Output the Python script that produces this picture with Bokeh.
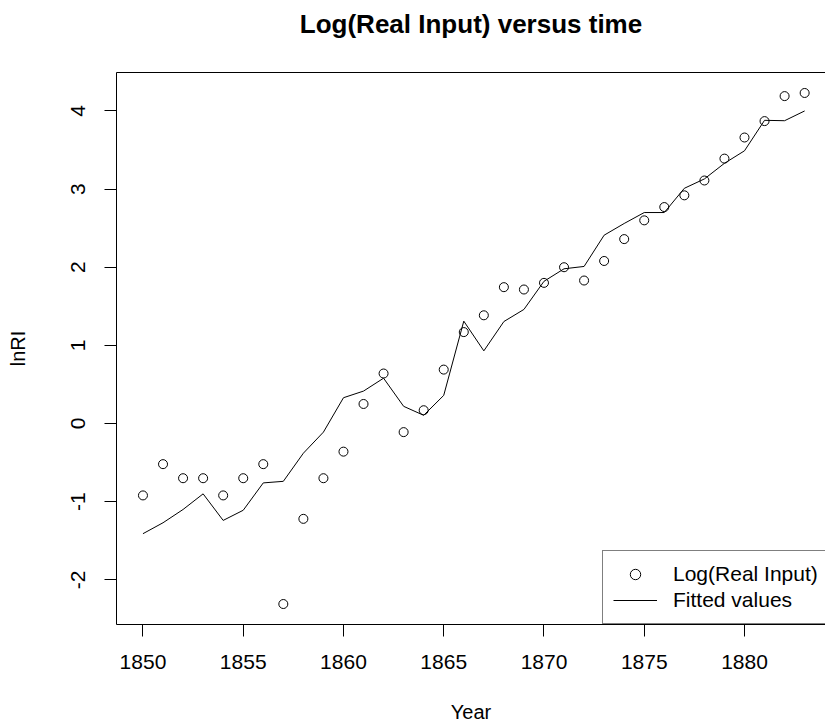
from bokeh.plotting import figure
from bokeh.models import (ColumnDataSource, FixedTicker, LinearAxis, Legend, LegendItem, Range1d)
from bokeh.embed import file_html
from bokeh.resources import INLINE

# ---- data ----
years = list(range(1850, 1884))
ln_real_input = [-0.92, -0.52, -0.70, -0.70, -0.92, -0.70, -0.52, -2.31, -1.22, -0.70,
                 -0.36, 0.25, 0.64, -0.11, 0.17, 0.69, 1.17, 1.385, 1.745, 1.715,
                 1.80, 2.00, 1.83, 2.08, 2.36, 2.60, 2.77, 2.92, 3.11, 3.39,
                 3.66, 3.87, 4.19, 4.23]
fitted_values = [-1.41, -1.27, -1.10, -0.90, -1.24, -1.11, -0.76, -0.74, -0.38, -0.11,
                 0.33, 0.415, 0.58, 0.22, 0.105, 0.36, 1.31, 0.93, 1.305, 1.46,
                 1.82, 1.98, 2.01, 2.41, 2.56, 2.70, 2.70, 3.01, 3.13, 3.33,
                 3.49, 3.88, 3.875, 4.00]
x_ticks = [1850, 1855, 1860, 1865, 1870, 1875, 1880]
y_ticks = [-2, -1, 0, 1, 2, 3, 4]
y_tick_labels = ["-2", "-1", "0", "1", "2", "3", "4"]

title_text = "Log(Real Input) versus time"
x_label = "Year"
y_label = "lnRI"
legend_labels = ["Log(Real Input)", "Fitted values"]

FONT = "Liberation Sans"

src = ColumnDataSource(dict(year=years, lnri=ln_real_input, fit=fitted_values))

p = figure(width=825, height=725, output_backend="svg", toolbar_location=None,
           x_range=Range1d(1848.68, 1884.04), y_range=Range1d(-2.572, 4.492),
           min_border_left=116, min_border_right=0, min_border_top=72,
           min_border_bottom=97, x_axis_location=None, y_axis_location=None)
p.outline_line_color = None
p.grid.visible = False
p.background_fill_color = "white"
p.border_fill_color = "white"

# axes
xax = LinearAxis(ticker=FixedTicker(ticks=x_ticks), axis_label=x_label)
yax = LinearAxis(ticker=FixedTicker(ticks=y_ticks), axis_label=y_label)
top = LinearAxis(ticker=FixedTicker(ticks=[]), axis_label=" ")
for ax in (xax, yax, top):
    ax.axis_line_color = "black"
    ax.axis_line_width = 1
    ax.major_tick_line_color = "black"
    ax.major_tick_out = 12
    ax.major_tick_in = 0
    ax.minor_tick_line_color = None
    ax.major_label_text_font = FONT
    ax.major_label_text_font_size = "21px"
    ax.major_label_text_color = "black"
    ax.axis_label_text_font = FONT
    ax.axis_label_text_font_size = "20px"
    ax.axis_label_text_font_style = "normal"
    ax.axis_label_text_color = "black"
top.major_label_text_font_size = "0px"
top.major_tick_line_color = None
top.major_tick_out = 0
top.axis_label_standoff = 9
xax.major_label_standoff = 18
xax.axis_label_standoff = 29
yax.major_label_orientation = "vertical"
yax.major_label_overrides = {t: s for t, s in zip(y_ticks, y_tick_labels)}
yax.major_label_standoff = 19
yax.axis_label_standoff = 40
p.add_layout(xax, "below")
p.add_layout(yax, "left")
p.add_layout(top, "above")

# title
p.title.text = title_text
p.title.align = "center"
p.title.text_font = FONT
p.title.text_font_size = "26px"
p.title.text_font_style = "bold"
p.title.text_color = "black"
p.title.standoff = 0

# glyphs
pts = p.scatter("year", "lnri", source=src, marker="circle", size=9,
                fill_color=None, line_color="black", line_width=1)
ln = p.line("year", "fit", source=src, line_color="black", line_width=1)

legend = Legend(items=[LegendItem(label=legend_labels[0], renderers=[pts]),
                       LegendItem(label=legend_labels[1], renderers=[ln])],
                location=(486, 0))
legend.label_text_font = FONT
legend.label_text_font_size = "21px"
legend.label_text_color = "black"
legend.border_line_color = "black"
legend.border_line_width = 1
legend.background_fill_color = "white"
legend.background_fill_alpha = 1
legend.padding = 10
legend.spacing = 0
legend.glyph_width = 44
legend.glyph_height = 26
legend.label_height = 26
legend.label_standoff = 16
legend.margin = 0
p.add_layout(legend, "center")

open("out.html", "w").write(file_html(p, INLINE))
